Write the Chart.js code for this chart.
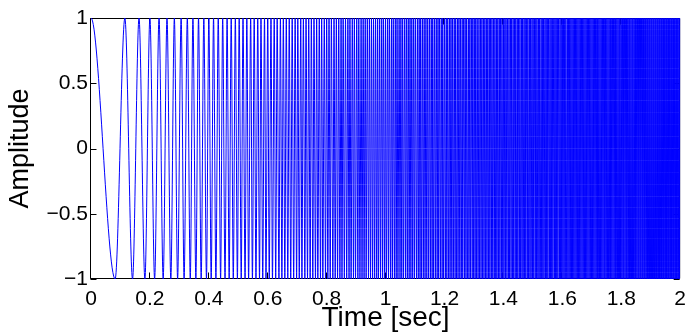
<!DOCTYPE html>
<html>
<head>
<meta charset="utf-8">
<script src="https://cdn.jsdelivr.net/npm/chart.js@4.4.1/dist/chart.umd.min.js"></script>
<style>
  html, body { margin: 0; padding: 0; background: #fff; }
</style>
</head>
<body>
<canvas id="chirp-chart" width="694" height="334"></canvas>
<script>
// chirp.js - linear chirp from 0 to 2 sec, drawn through its crests and troughs

// times (sec) of the crests, amplitude +1
const peakTimes = [
  0, 0.115, 0.163, 0.2, 0.231, 0.258, 0.283, 0.306, 0.327, 0.346, 0.365, 0.383, 0.4, 0.416, 0.432,
  0.447, 0.462, 0.476, 0.49, 0.503, 0.516, 0.529, 0.542, 0.554, 0.566, 0.577, 0.589,
  0.6, 0.611, 0.622, 0.632, 0.643, 0.653, 0.663, 0.673, 0.683, 0.693, 0.702, 0.712, 0.721, 0.73,
  0.739, 0.748, 0.757, 0.766, 0.775, 0.783, 0.792, 0.8, 0.808, 0.816, 0.825, 0.833, 0.841, 0.849,
  0.856, 0.864, 0.872, 0.879, 0.887, 0.894, 0.902, 0.909, 0.917, 0.924, 0.931, 0.938, 0.945, 0.952,
  0.959, 0.966, 0.973, 0.98, 0.987, 0.993,
  1, 1.007, 1.013, 1.02, 1.026, 1.033, 1.039, 1.046, 1.052, 1.058, 1.065, 1.071, 1.077, 1.083, 1.089,
  1.095, 1.101, 1.108, 1.114, 1.119, 1.125, 1.131, 1.137, 1.143, 1.149, 1.155, 1.16, 1.166, 1.172,
  1.178, 1.183, 1.189, 1.194, 1.2, 1.206, 1.211, 1.217, 1.222, 1.227, 1.233, 1.238, 1.244, 1.249,
  1.254, 1.26, 1.265, 1.27, 1.275, 1.281, 1.286, 1.291, 1.296, 1.301, 1.306, 1.311, 1.317, 1.322,
  1.327, 1.332, 1.337, 1.342, 1.347, 1.352, 1.356, 1.361, 1.366, 1.371, 1.376, 1.381, 1.386, 1.39,
  1.395, 1.4, 1.405, 1.409,
  1.414, 1.419, 1.424, 1.428, 1.433, 1.438, 1.442, 1.447, 1.451, 1.456, 1.461, 1.465, 1.47, 1.474,
  1.479, 1.483, 1.488, 1.492, 1.497, 1.501, 1.506, 1.51, 1.514, 1.519, 1.523, 1.528, 1.532, 1.536,
  1.541, 1.545, 1.549, 1.553, 1.558, 1.562, 1.566, 1.571, 1.575, 1.579, 1.583, 1.587, 1.592, 1.596,
  1.6, 1.604, 1.608, 1.612, 1.617, 1.621, 1.625, 1.629, 1.633, 1.637, 1.641, 1.645, 1.649, 1.653,
  1.657, 1.661, 1.665, 1.669, 1.673, 1.677, 1.681, 1.685, 1.689, 1.693, 1.697, 1.701, 1.705, 1.709,
  1.713, 1.717, 1.72, 1.724, 1.728, 1.732, 1.736, 1.74, 1.744, 1.747, 1.751, 1.755, 1.759, 1.763,
  1.766, 1.77, 1.774, 1.778, 1.781, 1.785, 1.789, 1.793, 1.796, 1.8, 1.804, 1.807, 1.811, 1.815,
  1.818, 1.822, 1.826, 1.829, 1.833, 1.837, 1.84, 1.844, 1.848, 1.851, 1.855, 1.858, 1.862, 1.865,
  1.869, 1.873, 1.876, 1.88, 1.883, 1.887, 1.89, 1.894, 1.897, 1.901, 1.904, 1.908, 1.911, 1.915,
  1.918, 1.922, 1.925, 1.929, 1.932, 1.936, 1.939, 1.943, 1.946, 1.949, 1.953, 1.956, 1.96, 1.963,
  1.966, 1.97, 1.973, 1.977, 1.98, 1.983, 1.987, 1.99, 1.993, 1.997, 2
];

// times (sec) of the troughs, amplitude -1
// (the chirp is even in time; the mirrored trough before 0 keeps the start flat and is clipped off)
const troughTimes = [
  -0.082,
  0.082, 0.141, 0.183, 0.216, 0.245, 0.271, 0.294, 0.316, 0.337, 0.356, 0.374, 0.392, 0.408, 0.424,
  0.44, 0.455, 0.469, 0.483, 0.497, 0.51, 0.523, 0.535, 0.548, 0.56, 0.572, 0.583, 0.594,
  0.605, 0.616, 0.627, 0.638, 0.648, 0.658, 0.668, 0.678, 0.688, 0.698, 0.707, 0.716, 0.726, 0.735,
  0.744, 0.753, 0.762, 0.77, 0.779, 0.787, 0.796, 0.804, 0.812, 0.821, 0.829, 0.837, 0.845, 0.852,
  0.86, 0.868, 0.876, 0.883, 0.891, 0.898, 0.906, 0.913, 0.92, 0.927, 0.934, 0.942, 0.949, 0.956,
  0.963, 0.97, 0.976, 0.983, 0.99, 0.997,
  1.003, 1.01, 1.017, 1.023, 1.03, 1.036, 1.042, 1.049, 1.055, 1.061, 1.068, 1.074, 1.08, 1.086,
  1.092, 1.098, 1.105, 1.111, 1.117, 1.122, 1.128, 1.134, 1.14, 1.146, 1.152, 1.158, 1.163, 1.169,
  1.175, 1.18, 1.186, 1.192, 1.197, 1.203, 1.208, 1.214, 1.219, 1.225, 1.23, 1.236, 1.241, 1.246,
  1.252, 1.257, 1.262, 1.268, 1.273, 1.278, 1.283, 1.288, 1.294, 1.299, 1.304, 1.309, 1.314, 1.319,
  1.324, 1.329, 1.334, 1.339, 1.344, 1.349, 1.354, 1.359, 1.364, 1.369, 1.374, 1.378, 1.383, 1.388,
  1.393, 1.398, 1.402, 1.407, 1.412,
  1.417, 1.421, 1.426, 1.431, 1.435, 1.44, 1.445, 1.449, 1.454, 1.458, 1.463, 1.467, 1.472, 1.476,
  1.481, 1.485, 1.49, 1.494, 1.499, 1.503, 1.508, 1.512, 1.517, 1.521, 1.525, 1.53, 1.534, 1.538,
  1.543, 1.547, 1.551, 1.556, 1.56, 1.564, 1.568, 1.573, 1.577, 1.581, 1.585, 1.59, 1.594, 1.598,
  1.602, 1.606, 1.61, 1.615, 1.619, 1.623, 1.627, 1.631, 1.635, 1.639, 1.643, 1.647, 1.651, 1.655,
  1.659, 1.663, 1.667, 1.671, 1.675, 1.679, 1.683, 1.687, 1.691, 1.695, 1.699, 1.703, 1.707, 1.711,
  1.715, 1.719, 1.722, 1.726, 1.73, 1.734, 1.738, 1.742, 1.745, 1.749, 1.753, 1.757, 1.761, 1.764,
  1.768, 1.772, 1.776, 1.78, 1.783, 1.787, 1.791, 1.794, 1.798, 1.802, 1.806, 1.809, 1.813, 1.817,
  1.82, 1.824, 1.828, 1.831, 1.835, 1.838, 1.842, 1.846, 1.849, 1.853, 1.857, 1.86, 1.864, 1.867,
  1.871, 1.874, 1.878, 1.881, 1.885, 1.889, 1.892, 1.896, 1.899, 1.903, 1.906, 1.91, 1.913, 1.917,
  1.92, 1.924, 1.927, 1.93, 1.934, 1.937, 1.941, 1.944, 1.948, 1.951, 1.954, 1.958, 1.961, 1.965,
  1.968, 1.971, 1.975, 1.978, 1.982, 1.985, 1.988, 1.992, 1.995, 1.998
];

const peakLevel = 1;
const troughLevel = -1;

const xTickValues = [0, 0.2, 0.4, 0.6, 0.8, 1, 1.2, 1.4, 1.6, 1.8, 2];
const xTickLabels = ["0", "0.2", "0.4", "0.6", "0.8", "1", "1.2", "1.4", "1.6", "1.8", "2"];
const yTickValues = [-1, -0.5, 0, 0.5, 1];
const yTickLabels = ["\u22121", "\u22120.5", "0", "0.5", "1"];

const FONT = "'Liberation Sans', Arial, Helvetica, sans-serif";

// crests and troughs merged in time order
const points = peakTimes.map(t => ({ x: t, y: peakLevel }))
  .concat(troughTimes.map(t => ({ x: t, y: troughLevel })))
  .sort((a, b) => a.x - b.x);

// matlab style box with inward ticks, under the trace
const axesBox = {
  id: "axesBox",
  beforeDatasetsDraw(chart) {
    const { ctx, chartArea: a, scales } = chart;
    const L = a.left - 0.5, R = a.right - 0.5, T = a.top + 0.5, B = a.bottom - 0.5;
    const len = 6;
    ctx.save();
    ctx.strokeStyle = "#000";
    ctx.lineWidth = 1;
    ctx.beginPath();
    ctx.rect(L, T, R - L, B - T);
    xTickValues.forEach(v => {
      const px = Math.round(scales.x.getPixelForValue(v)) - 0.5;
      ctx.moveTo(px, B); ctx.lineTo(px, B - len);
      ctx.moveTo(px, T); ctx.lineTo(px, T + len);
    });
    yTickValues.forEach(v => {
      const py = Math.round(scales.y.getPixelForValue(v)) + 0.5;
      ctx.moveTo(L, py); ctx.lineTo(L + len, py);
      ctx.moveTo(R, py); ctx.lineTo(R - len, py);
    });
    ctx.stroke();
    ctx.restore();
  }
};

new Chart(document.getElementById("chirp-chart"), {
  type: "line",
  data: {
    datasets: [{
      label: "chirp",
      data: points,
      borderColor: "#0000ff",
      borderWidth: 1,
      pointRadius: 0,
      fill: false,
      cubicInterpolationMode: "monotone"
    }]
  },
  options: {
    responsive: false,
    animation: false,
    events: [],
    layout: { padding: { left: 0, right: 7, top: 18, bottom: 0 } },
    plugins: { legend: { display: false }, tooltip: { enabled: false } },
    scales: {
      x: {
        type: "linear",
        min: 0,
        max: 2,
        grid: { display: false, drawTicks: false },
        border: { display: false },
        afterBuildTicks: s => { s.ticks = xTickValues.map(v => ({ value: v })); },
        afterFit: s => { s.height = 55; },
        ticks: {
          color: "#000",
          font: { family: FONT, size: 21 },
          padding: 8,
          maxRotation: 0,
          autoSkip: false,
          callback: (v, i) => xTickLabels[i]
        },
        title: {
          display: true,
          text: "Time [sec]",
          color: "#000",
          font: { family: FONT, size: 28 },
          padding: { top: 0, bottom: -1 }
        }
      },
      y: {
        type: "linear",
        min: -1,
        max: 1,
        grid: { display: false, drawTicks: false },
        border: { display: false },
        afterBuildTicks: s => { s.ticks = yTickValues.map(v => ({ value: v })); },
        afterFit: s => { s.width = 91; },
        ticks: {
          color: "#000",
          font: { family: FONT, size: 21 },
          padding: 3,
          autoSkip: false,
          callback: (v, i) => yTickLabels[i]
        },
        title: {
          display: true,
          text: "Amplitude",
          color: "#000",
          font: { family: FONT, size: 27 },
          padding: { top: 4, bottom: 0 }
        }
      }
    }
  },
  plugins: [axesBox]
});
</script>
</body>
</html>
